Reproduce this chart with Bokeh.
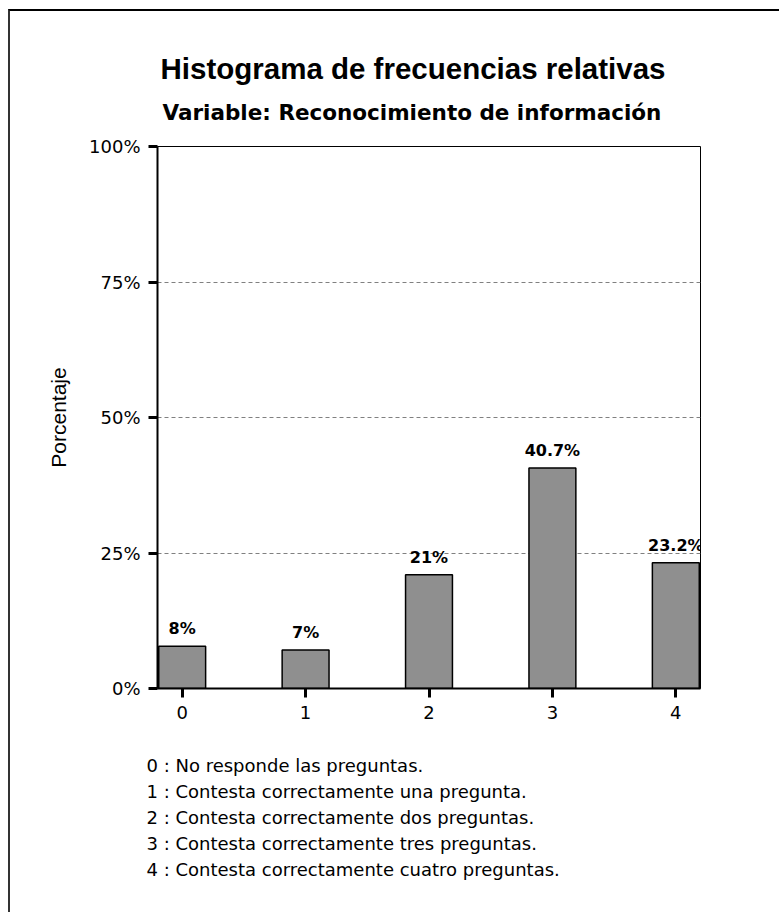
from bokeh.plotting import figure
from bokeh.models import Range1d, FixedTicker, ColumnDataSource, LabelSet, Title
from bokeh.core.properties import value
from bokeh.embed import file_html
from bokeh.resources import INLINE

# ---- data ----
categories = [0, 1, 2, 3, 4]
percentages = [7.8, 7.1, 21.0, 40.7, 23.2]
bar_labels = ["8%", "7%", "21%", "40.7%", "23.2%"]
y_ticks = [0, 25, 50, 75, 100]
y_tick_labels = ["0%", "25%", "50%", "75%", "100%"]
x_tick_labels = ["0", "1", "2", "3", "4"]
grid_values = [25, 50, 75]
legend_lines = [
    "0 : No responde las preguntas.",
    "1 : Contesta correctamente una pregunta.",
    "2 : Contesta correctamente dos preguntas.",
    "3 : Contesta correctamente tres preguntas.",
    "4 : Contesta correctamente cuatro preguntas.",
]
title_text = "Histograma de frecuencias relativas"
subtitle_text = "Variable: Reconocimiento de información"
y_label = "Porcentaje"

source = ColumnDataSource(dict(x=categories, top=percentages, label=bar_labels))

p = figure(
    width=771, height=903,
    x_range=Range1d(-0.2, 4.2), y_range=Range1d(0, 100),
    output_backend="svg", toolbar_location=None, title=None,
    min_border_left=147, min_border_top=135,
    min_border_right=81, min_border_bottom=226,
)
p.styles = {
    "margin-left": "8px", "margin-top": "9px",
    "border-top": "2px solid black", "border-left": "2px solid #333333",
    "border-right": "0px none", "border-bottom": "0px none",
}
p.background_fill_color = "white"
p.border_fill_color = "white"
p.outline_line_color = "black"
p.outline_line_width = 1

p.vbar(x="x", top="top", width=0.38, source=source,
       fill_color="#8f8f8f", line_color="black", line_width=1.5)

labels = LabelSet(x="x", y="top", text="label", source=source,
                  text_align="center", text_baseline="bottom", y_offset=8,
                  text_font=value("DejaVu Sans"), text_font_size=value("16px"),
                  text_font_style="bold", text_color="black")
p.add_layout(labels)

# grid
p.xgrid.grid_line_color = None
p.ygrid.ticker = FixedTicker(ticks=grid_values)
p.ygrid.grid_line_color = "#808080"
p.ygrid.grid_line_dash = "4 3"
p.ygrid.grid_line_width = 1

# axes
for ax in (p.xaxis[0], p.yaxis[0]):
    ax.axis_line_color = "black"
    ax.axis_line_width = 2
    ax.major_tick_line_color = "black"
    ax.major_tick_line_width = 3
    ax.major_tick_out = 9
    ax.major_tick_in = 0
    ax.minor_tick_line_color = None
    ax.major_label_text_font = "DejaVu Sans"
    ax.major_label_text_font_size = "18px"
    ax.major_label_text_color = "black"
    ax.major_label_standoff = 8

p.yaxis.ticker = FixedTicker(ticks=y_ticks)
p.yaxis.major_label_overrides = {t: l for t, l in zip(y_ticks, y_tick_labels)}
p.xaxis.ticker = FixedTicker(ticks=categories)
p.xaxis.major_label_overrides = {c: l for c, l in zip(categories, x_tick_labels)}

p.yaxis.axis_label = y_label
p.yaxis.axis_label_text_font = "Liberation Sans"
p.yaxis.axis_label_text_font_size = "21px"
p.yaxis.axis_label_text_font_style = "normal"
p.yaxis.axis_label_text_color = "black"
p.yaxis.axis_label_standoff = 16

# titles (first added "above" is nearest to the frame)
p.add_layout(Title(text=" ", text_font_size="2px", standoff=10), "above")
sub = Title(text=subtitle_text, align="left", offset=5,
            text_font="DejaVu Sans", text_font_size="21.5px",
            text_font_style="bold", text_color="black", standoff=16)
p.add_layout(sub, "above")
main = Title(text=title_text, align="left", offset=3,
             text_font="Liberation Sans", text_font_size="29.5px",
             text_font_style="bold", text_color="black", standoff=10)
p.add_layout(main, "above")

# legend notes below the x axis
p.add_layout(Title(text=" ", text_font_size="10px", standoff=17), "below")
for line in legend_lines:
    t = Title(text=line, align="left", offset=-11,
              text_font="DejaVu Sans", text_font_size="18px",
              text_font_style="normal", text_color="black", standoff=3.3)
    p.add_layout(t, "below")

open("out.html", "w").write(file_html(p, INLINE))
